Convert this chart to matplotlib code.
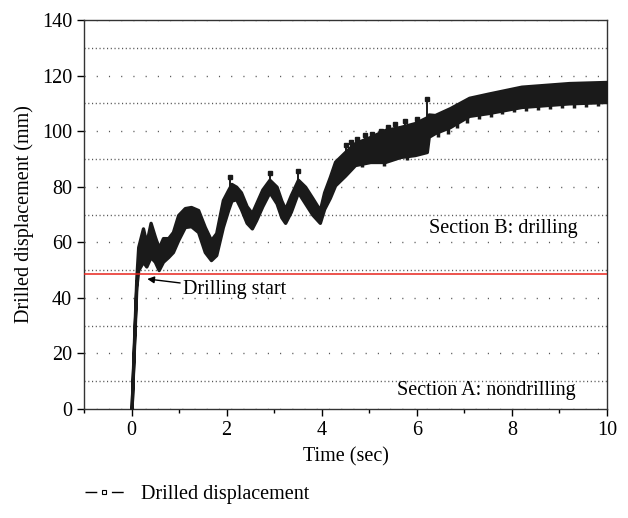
import matplotlib
matplotlib.use('Agg')
import matplotlib.pyplot as plt
from matplotlib.lines import Line2D
from matplotlib.ticker import MultipleLocator

time_s = [0.0, 0.05, 0.10, 0.14, 0.24, 0.31, 0.40, 0.49, 0.57, 0.66, 0.77, 0.87,
          0.98, 1.12, 1.25, 1.40, 1.54, 1.67, 1.78, 1.92, 2.03, 2.10, 2.20, 2.30,
          2.42, 2.53, 2.62, 2.75, 2.90, 3.05, 3.15, 3.23, 3.35, 3.50, 3.65, 3.80,
          3.96, 4.05, 4.17, 4.28, 4.49, 4.70, 5.02, 5.33, 5.65, 5.96, 6.21, 6.25,
          6.38, 6.70, 7.10, 7.50, 8.20, 9.20, 10.0]
upper_mm = [0.0, 24.0, 47.0, 58.3, 65.0, 59.7, 67.0, 62.0, 58.0, 61.5, 61.5, 63.7,
            69.8, 72.3, 72.7, 71.6, 65.5, 60.8, 63.3, 75.2, 78.8, 81.0, 80.0, 78.0,
            73.0, 70.5, 74.0, 79.0, 82.5, 80.0, 75.0, 72.0, 77.0, 82.5, 80.0, 76.0,
            71.6, 78.0, 83.5, 89.0, 92.5, 95.7, 97.9, 100.4, 101.5, 102.9, 105.0, 106.0,
            105.8, 108.3, 112.0, 113.5, 116.0, 117.3, 117.7]
lower_mm = [0.0, 22.0, 44.0, 50.0, 53.0, 51.3, 54.7, 53.0, 50.0, 53.0, 54.7, 56.5,
            60.8, 65.5, 65.8, 63.7, 56.5, 53.6, 55.4, 65.5, 71.6, 75.0, 75.5, 72.0,
            67.0, 65.0, 68.0, 73.0, 78.0, 74.0, 69.0, 67.0, 71.0, 78.0, 74.0, 70.0,
            67.0, 72.0, 76.0, 80.5, 84.0, 87.8, 88.9, 88.9, 90.7, 91.4, 92.5, 98.0,
            99.3, 101.5, 105.5, 106.5, 108.7, 110.0, 110.5]

# isolated spikes above the band
spike_t = [2.07, 2.91, 3.50, 4.50, 4.62, 4.75, 4.90, 5.05, 5.25, 5.40, 5.55, 5.75, 6.00, 6.21]
spike_top = [83.5, 85.0, 85.5, 95.0, 96.0, 97.0, 98.5, 99.0, 100.0, 101.5, 102.5, 103.5, 104.5, 111.5]
spike_base = [80.0, 82.0, 82.0, 92.0, 94.0, 95.5, 96.5, 97.5, 99.0, 100.5, 101.0, 102.0, 102.5, 104.0]

# comb of short dips below the band
dip_t = [4.85, 5.30, 5.80, 6.45, 6.65, 6.85, 7.05, 7.30, 7.55, 7.80, 8.05, 8.30,
         8.55, 8.80, 9.05, 9.30, 9.55, 9.80]
dip_bottom = [87.0, 87.5, 89.5, 98.0, 99.0, 101.0, 103.0, 104.5, 105.0, 106.0,
              106.8, 107.3, 107.7, 108.0, 108.3, 108.5, 108.7, 108.9]
dip_base = [89.0, 89.5, 91.5, 100.5, 101.5, 103.5, 105.5, 106.5, 107.0, 108.0,
            108.8, 109.3, 109.7, 110.0, 110.3, 110.5, 110.7, 110.9]

START_LEVEL = 48.5

plt.rcParams['font.family'] = ['Liberation Serif', 'DejaVu Serif']
plt.rcParams['font.size'] = 14.5

fig = plt.figure(figsize=(6.28, 5.18), dpi=100)
ax = fig.add_axes([0.1338, 0.2104, 0.8328, 0.751])

ink = '#1a1a1a'
ax.fill_between(time_s, lower_mm, upper_mm, color=ink, edgecolor=ink,
                linewidth=2.4, zorder=3)
ax.vlines(spike_t, spike_base, spike_top, color=ink, linewidth=1.4, zorder=3)
ax.plot(spike_t, spike_top, 's', color=ink, markersize=3, zorder=3)
ax.vlines(dip_t, dip_bottom, dip_base, color=ink, linewidth=2.5, zorder=3)

ax.axhline(START_LEVEL, color='#e8241c', linewidth=1.1, zorder=4)

ax.annotate('Drilling start', xy=(0.33, 46.8), xytext=(1.08, 43),
            va='center', ha='left',
            arrowprops=dict(arrowstyle='-|>', color='black', lw=1.0,
                            mutation_scale=10, shrinkA=0, shrinkB=0))

ax.text(9.38, 65, 'Section B: drilling', ha='right', va='center')
ax.text(9.34, 6.5, 'Section A: nondrilling', ha='right', va='center')

ax.set_xlim(-1, 10)
ax.set_ylim(0, 140)
ax.xaxis.set_major_locator(MultipleLocator(2))
ax.xaxis.set_minor_locator(MultipleLocator(1))
ax.yaxis.set_major_locator(MultipleLocator(20))
ax.yaxis.set_minor_locator(MultipleLocator(10))
ax.tick_params(which='major', direction='out', length=5, width=1, labelsize=14.5)
ax.tick_params(axis='x', which='minor', direction='out', length=3, width=1)
ax.tick_params(axis='y', which='minor', length=0)

ax.yaxis.grid(True, which='major', linestyle=(0, (0.8, 8)), color='#555555', linewidth=1)
ax.yaxis.grid(True, which='minor', linestyle=(0, (0.8, 1.9)), color='#555555', linewidth=1)
ax.set_axisbelow(True)

for s in ax.spines.values():
    s.set_linewidth(1.0)
    s.set_color('#333333')

ax.set_xlabel('Time (sec)', fontsize=14.5, labelpad=5)
ax.set_ylabel('Drilled displacement (mm)', fontsize=14.5, labelpad=6)

handle = Line2D([], [], color='black', linewidth=1, linestyle=(0, (8.5, 10.5)),
                marker='s', markersize=3, markerfacecolor='white',
                markeredgecolor='black', markeredgewidth=0.8)
fig.legend([handle], ['Drilled displacement'], loc='center left',
           bbox_to_anchor=(0.107, 0.045), frameon=False, numpoints=1,
           handlelength=1.9, handletextpad=0.85, fontsize=14.5)

fig.savefig('out.png', dpi=100)
